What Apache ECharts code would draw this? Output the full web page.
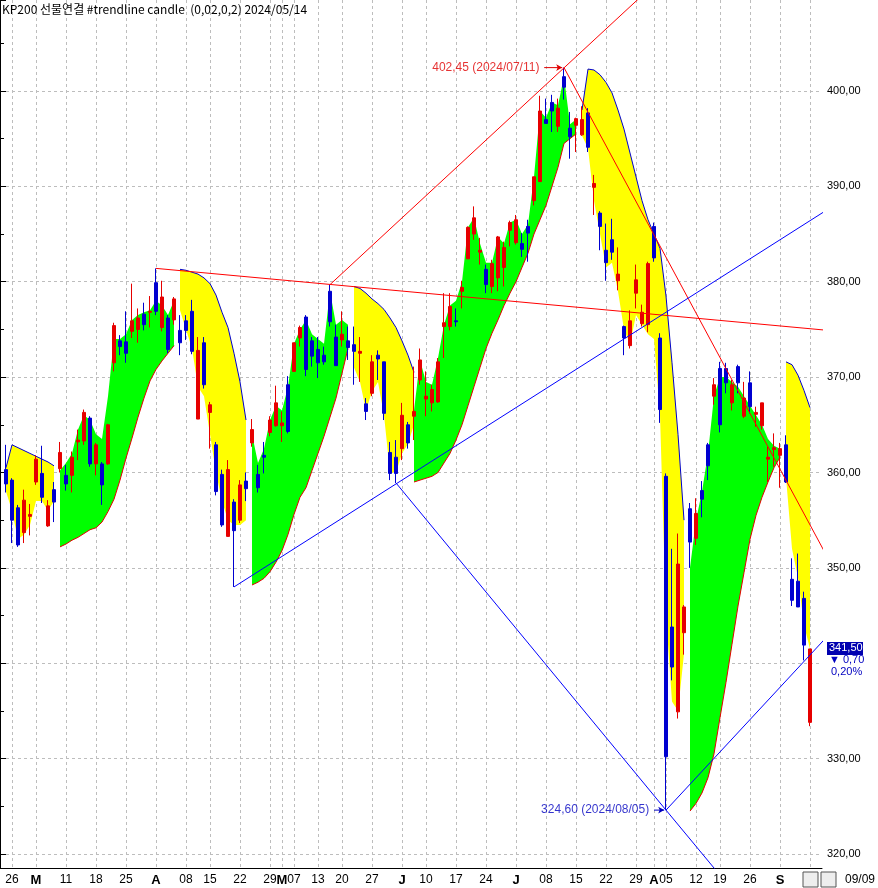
<!DOCTYPE html><html><head><meta charset="utf-8">
<script src="https://cdn.jsdelivr.net/npm/echarts@6/dist/echarts.min.js"></script>
<style>html,body{margin:0;background:#fff}#c{width:878px;height:888px}</style></head><body><div id="c"></div><script>
const openV=[360.3,359.2,356.3,353.7,355.4,359.0,359.9,354.4,358.2,360.4,359.7,359.7,363.2,363.3,365.7,360.9,360.9,360.9,371.5,373.8,373.7,374.8,375.0,376.6,376.8,379.9,375.2,376.2,376.0,374.9,375.9,376.9,365.6,373.6,366.3,362.9,359.8,353.3,356.9,355.0,359.1,363.1,359.8,361.8,364.2,364.9,364.9,369.2,370.6,374.1,376.3,373.8,372.9,372.3,379.0,374.2,373.9,373.8,373.4,372.5,367.2,368.3,372.3,371.6,362.1,361.6,362.5,365.0,365.9,369.7,367.7,367.3,367.4,375.3,375.3,375.9,379.0,382.4,385.0,383.1,381.3,379.5,380.4,381.5,385.4,384.1,384.0,385.8,388.5,390.5,397.0,398.8,396.3,401.5,396.1,396.4,395.4,397.7,389.9,387.2,383.3,384.4,380.1,375.3,373.3,378.8,375.6,375.5,385.8,374.1,359.6,343.8,334.9,343.2,356.2,353.1,358.1,362.9,368.0,370.9,370.9,367.3,371.1,365.9,369.4,366.1,364.9,361.4,362.4,361.8,362.9,348.8,348.6,346.8,333.8];
const closeV=[358.8,355.0,352.4,357.1,355.6,361.4,357.4,356.5,356.9,362.1,358.8,361.6,363.4,366.3,360.9,362.9,358.7,365.0,375.4,373.2,372.5,375.9,376.2,375.5,376.9,376.9,378.4,372.9,378.2,373.6,374.9,372.7,372.8,369.2,367.1,358.0,354.5,360.3,353.9,358.7,358.3,364.5,358.4,361.6,365.5,367.3,365.2,364.3,373.6,375.2,370.8,372.2,371.5,371.6,375.8,371.2,374.5,373.1,372.7,372.7,366.4,371.6,371.9,366.2,359.9,359.9,366.0,363.1,366.4,371.8,368.0,368.7,371.6,375.7,377.4,375.8,379.4,385.7,386.7,383.3,379.7,381.9,384.7,383.6,386.2,386.5,383.4,385.1,391.0,397.9,396.6,397.9,398.2,400.4,395.2,397.1,397.0,394.1,390.3,385.8,382.0,383.1,380.8,374.1,375.9,380.2,376.8,381.9,382.5,366.6,330.2,339.6,350.4,345.9,352.7,355.7,357.2,360.7,369.2,365.0,369.4,369.2,369.4,367.8,366.9,366.3,367.3,361.6,362.6,362.5,359.0,346.6,345.9,341.9,341.5];
const lowV=[357.9,352.6,352.2,352.6,353.4,358.7,356.8,354.3,354.8,360.0,358.1,357.9,361.3,362.9,360.6,359.7,356.6,360.8,370.6,372.3,371.5,374.1,373.6,374.9,375.2,376.5,374.8,372.5,375.5,372.3,373.9,372.4,365.6,368.8,362.5,357.6,354.3,353.3,348.0,354.7,357.0,362.7,357.9,359.9,363.8,364.8,363.2,364.1,370.6,373.2,370.1,371.1,369.9,371.3,375.3,371.2,373.2,371.8,369.2,369.5,365.5,368.0,369.7,365.5,359.2,358.9,361.3,362.5,363.4,369.2,365.9,366.4,367.3,372.0,374.9,375.3,377.2,382.4,384.4,381.8,378.8,378.8,379.0,379.5,383.7,383.9,382.6,382.1,388.0,390.5,396.6,395.7,395.7,399.1,392.9,393.6,395.3,393.6,387.0,383.3,380.1,382.3,379.1,372.3,373.0,377.2,375.3,374.7,382.1,365.2,324.6,338.2,334.2,340.9,350.0,352.4,355.3,359.2,367.1,364.2,368.3,366.5,368.3,365.7,366.2,364.8,364.5,359.0,360.6,358.4,358.9,346.0,345.9,340.3,333.4];
const highV=[362.9,359.4,356.6,358.2,356.7,361.8,362.8,357.1,359.0,363.2,360.8,362.2,364.5,366.6,365.9,363.1,361.1,365.1,375.7,374.4,376.9,379.8,377.2,377.8,378.5,381.4,380.1,376.5,378.4,376.5,376.5,378.1,374.2,374.2,367.4,363.2,360.3,361.3,357.2,359.2,360.0,365.6,360.8,363.2,365.9,369.1,366.4,370.1,373.6,375.4,376.5,374.2,374.2,373.2,379.7,375.5,376.9,375.3,375.3,374.2,367.8,372.3,372.8,371.6,363.2,363.4,367.3,365.3,371.1,373.0,370.6,369.2,372.0,378.8,378.8,377.2,380.1,385.8,387.9,384.6,381.8,382.3,384.8,384.2,386.4,387.0,385.1,386.5,391.0,399.5,399.2,399.6,399.2,402.45,397.8,397.2,398.4,398.2,391.2,387.4,386.1,386.6,383.6,375.4,377.0,381.8,377.6,382.1,386.2,374.6,359.9,352.0,353.6,346.1,356.8,357.3,359.1,363.1,369.9,371.6,371.5,369.7,371.3,369.5,370.6,366.9,367.3,362.7,364.1,363.1,363.9,351.0,351.5,347.5,341.5];
const greenLo={9:352.2,10:352.5,11:352.9,12:353.2,13:353.6,14:354.0,15:354.2,16:354.8,17:355.9,18:357.2,19:359.2,20:361.5,21:363.6,22:365.8,23:367.8,24:369.6,25:370.8,26:371.7,27:372.5,28:373.3,
41:348.2,42:348.5,43:348.9,44:349.6,45:350.6,46:351.8,47:353.5,48:355.6,49:357.4,50:358.4,51:360.2,52:362.0,53:363.8,54:365.8,55:367.8,56:370.4,57:373.0,
68:359.0,69:359.2,70:359.4,71:359.6,72:360.0,73:361.0,74:362.0,75:363.4,76:365.0,77:367.0,78:369.0,79:371.0,80:373.0,81:374.6,82:376.0,83:377.5,84:378.8,85:380.0,86:381.5,87:383.0,88:385.0,89:386.5,90:388.0,91:390.0,92:392.0,93:394.5,94:395.0,95:395.5,
114:324.5,115:325.3,116:326.4,117:328.0,118:330.5,119:334.3,120:338.0,121:342.0,122:346.0,123:349.5,124:353.0,125:355.5,126:357.4,127:359.0,128:360.5,129:361.6};
const greenHi={9:360.2,10:361,11:362,12:364.5,13:366,14:365.5,15:364,16:363.5,17:368,18:374,19:374,20:374.5,21:376,22:376.5,23:376.8,24:377,25:378,26:377.5,27:376.5,28:378,
41:364,42:361,43:362.5,44:365.5,45:367,46:366.5,47:369,48:373.5,49:375,50:376,51:374.5,52:374,53:373.5,54:379,55:375.5,56:376,57:375.5,
68:366.5,69:371.8,70:369.5,71:369.2,72:372,73:375.5,74:377.5,75:378,76:380,77:385.7,78:386.7,79:384,80:382,81:382,82:384.7,83:384,84:386.2,85:386.5,86:385,87:386,88:391,89:397.9,90:397.2,91:398.8,92:398.5,93:401.5,94:396.5,95:397,
114:350,115:355,116:358,117:362,118:368,119:370,120:370,121:369.5,122:369,123:368,124:367,125:366,126:365,127:363.5,128:362.8,129:362.5};
const yellowLo={0:358,1:356,2:353,3:353.5,4:354.5,5:357,6:357,7:356,8:357,
29:377,30:375,31:373,32:369,33:368,34:364,35:360,36:357,37:355,38:354.5,39:354.5,40:355,
58:371,59:369.5,60:366.5,61:368.5,62:369.5,63:366,64:360,65:360,66:362,67:363,68:365,
96:395.3,97:394,98:388.5,99:385,100:381.5,101:382,102:379,103:375,104:373.5,105:376.5,106:375.5,107:374.5,108:374,109:366,110:345,111:336,112:335,113:341,
130:359.5,131:352,132:349,133:344,134:341.5};
const yellowHi={0:360.5,1:362.9,2:362.6,3:362.3,4:362,5:361.7,6:361.4,7:361.1,8:360.7,
29:381.3,30:381.2,31:381.0,32:380.8,33:380.4,34:379.8,35:378.6,36:376.8,37:375.2,38:372.5,39:369.5,40:365.5,
58:379.5,59:379.3,60:378.8,61:378.2,62:377.7,63:377.1,64:376.2,65:375.2,66:373.8,67:372.3,68:370.5,
96:398,97:402.3,98:402.2,99:401.7,100:400.9,101:399.8,102:398,103:396,104:393.5,105:391,106:388.5,107:386.5,108:385,109:383.5,110:378.5,111:371.5,112:364,113:355,
130:371.6,131:371.3,132:370.2,133:368.6,134:366.8};
const tickLabels={1:'26',5:'M',10:'11',15:'18',20:'25',25:'A',30:'08',34:'15',39:'22',44:'29',46:'M',48:'07',52:'13',56:'20',61:'27',66:'J',70:'10',75:'17',80:'24',85:'J',90:'08',95:'15',100:'22',105:'29',108:'A',110:'05',115:'12',119:'19',124:'26',129:'S',134:'09'};
const redLines=[[[25,381.4],[137,374.9]],[[54,379.7],[106,410.0]],[[93,402.45],[137,351.0]]];
const blueLines=[[[38,348.0],[137,387.6]],[[65,358.9],[110,324.6],[122,315.5]],[[110,324.6],[137,342.9]]];
const highMark={i:93,v:402.45,text:'402,45 (2024/07/11)'};
const lowMark={i:110,v:324.6,text:'324,60 (2024/08/05)'};
const lastPrice='341,50', change='0,70', changePct='0,20%';

const N=openV.length, NC=N+3;
const cats=[]; for(let k=0;k<NC;k++) cats.push(String(k));
const candle=[['-','-','-','-']];
for(let i=0;i<N;i++) candle.push([openV[i],closeV[i],lowV[i],highV[i]]);
function arr(obj){const a=new Array(NC).fill('-');for(const k in obj)a[+k+1]=obj[k];return a;}
function diff(lo,hi){const a=new Array(NC).fill('-');for(const k in lo)a[+k+1]=+(hi[k]-lo[k]).toFixed(2);return a;}
const RED='#e60000', BLUE='#0000d0';
const series=[];
function band(lo,hi,col,stack,edge,edgeCol){
  series.push({type:'line',data:arr(lo),stack,symbol:'none',lineStyle:{opacity:0},z:1,silent:true});
  series.push({type:'line',data:diff(lo,hi),stack,symbol:'none',lineStyle:{opacity:0},areaStyle:{color:col,opacity:1},z:1,silent:true});
  series.push({type:'line',data:arr(edge),symbol:'none',lineStyle:{color:edgeCol,width:1},z:2,silent:true});
}
band(greenLo,greenHi,'#00ff00','g',greenLo,RED);
band(yellowLo,yellowHi,'#ffff00','y',yellowHi,BLUE);
series.push({type:'candlestick',data:candle,barWidth:4,z:3,
  itemStyle:{color:RED,color0:BLUE,borderColor:RED,borderColor0:BLUE,borderWidth:1}});
function sh(p){return p.map(q=>[q[0]+1,q[1]]);}
redLines.forEach(l=>series.push({type:'line',xAxisIndex:1,data:sh(l),symbol:'none',lineStyle:{color:'#ff0000',width:1},z:4,silent:true}));
blueLines.forEach(l=>series.push({type:'line',xAxisIndex:1,data:sh(l),symbol:'none',lineStyle:{color:'#0000ff',width:1},z:4,silent:true}));
function mark(m,col,back){
  series.push({type:'line',xAxisIndex:1,showSymbol:true,
    data:[{value:[m.i+1-back,m.v],symbol:'none'},{value:[m.i+1-0.3,m.v],symbol:'arrow',symbolSize:[5,6],symbolRotate:-90}],
    itemStyle:{color:col},lineStyle:{color:col,width:1},z:5,silent:true});
  series.push({type:'scatter',xAxisIndex:1,data:[[m.i+1-back-0.8,m.v]],symbolSize:0,itemStyle:{color:col},z:5,silent:true,
    label:{show:true,position:'left',distance:0,formatter:m.text,color:col,fontSize:12,fontFamily:'Liberation Sans'}});
}
mark(highMark,'#e00000',3.3);
mark(lowMark,'#0000c0',2);
const chart=echarts.init(document.getElementById('c'));
const fmt=v=>v.toFixed(2).replace('.',',');
chart.setOption({animation:false,backgroundColor:'#fff',
  grid:{left:0,right:56,top:0,bottom:20},
  xAxis:[{type:'category',data:cats,boundaryGap:false,
    axisLine:{lineStyle:{color:'#000'}},axisTick:{show:false},
    axisLabel:{interval:(i)=>tickLabels[i-1]!==undefined,formatter:(v,i)=>{const t=tickLabels[+v-1];return /[A-Z]/.test(t)?'{b|'+t+'}':t;},
      color:'#000',fontSize:12,fontFamily:'Liberation Sans',margin:6,rich:{b:{fontWeight:'bold',fontSize:13,fontFamily:'Liberation Sans',color:'#000'}}},
    splitLine:{show:true,interval:(i)=>tickLabels[i-1]!==undefined,lineStyle:{color:'#bdbdbd',type:[3,3]}}},
   {type:'value',min:0,max:NC-1,show:false}],
  yAxis:{type:'value',position:'right',min:318.53,max:409.54,splitNumber:9,scale:true,
    axisLine:{show:true,lineStyle:{color:'#000'}},axisTick:{show:true,length:6,lineStyle:{color:'#000'}},
    minorTick:{show:true,splitNumber:2,length:4,lineStyle:{color:'#000'}},
    axisLabel:{showMinLabel:false,showMaxLabel:false,formatter:fmt,color:'#000',fontSize:11,fontFamily:'Liberation Sans',margin:5},
    splitLine:{show:true,showMinLine:false,showMaxLine:false,lineStyle:{color:'#bdbdbd',type:[3,3]}}},
  series});
const py=chart.convertToPixel({yAxisIndex:0},341.5);
chart.setOption({graphic:[
  {type:'text',left:2,top:3,style:{text:'KP200 선물연결 #trendline candle  (0,02,0,2) 2024/05/14',fill:'#000',font:'12px "Noto Sans CJK KR", "Liberation Sans"'}},
  {type:'rect',z:10,shape:{x:824,y:py-7,width:54,height:38},style:{fill:'#fff'}},
  {type:'rect',z:11,shape:{x:827,y:py-7,width:36,height:13},style:{fill:'#0000b0'}},
  {type:'text',z:12,x:829,y:py-6,style:{text:lastPrice,fill:'#fff',font:'11px "Liberation Sans"'}},
  {type:'text',z:12,x:829,y:py+6,style:{text:'▼ '+change,fill:'#0000c0',font:'11px "Liberation Sans"'}},
  {type:'text',z:12,x:831,y:py+18,style:{text:changePct,fill:'#0000c0',font:'11px "Liberation Sans"'}},
  {type:'rect',z:10,shape:{x:803,y:872,width:15,height:15},style:{fill:'#eee',stroke:'#555'}},
  {type:'rect',z:10,shape:{x:821,y:872,width:15,height:15},style:{fill:'#eee',stroke:'#555'}},
  {type:'text',z:10,x:845,y:874,style:{text:'09/09',fill:'#000',font:'12px "Liberation Sans"'}}
]});
</script></body></html>
